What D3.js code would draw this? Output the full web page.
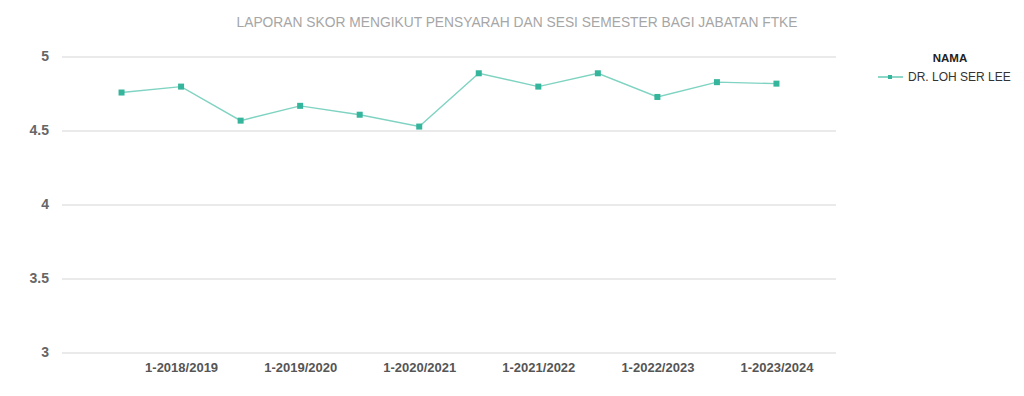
<!DOCTYPE html>
<html>
<head>
<meta charset="utf-8">
<script src="https://cdn.jsdelivr.net/npm/d3@7"></script>
<style>
  body { margin: 0; background: #fff; }
  text { font-family: "Liberation Sans", Arial, sans-serif; }
</style>
</head>
<body>
<svg id="chart" width="1024" height="396"></svg>
<script>
// semesters on the x axis (only every second one gets a label)
var semesters = ['2-2017/2018', '1-2018/2019', '2-2018/2019', '1-2019/2020', '2-2019/2020', '1-2020/2021',
  '2-2020/2021', '1-2021/2022', '2-2021/2022', '1-2022/2023', '2-2022/2023', '1-2023/2024'];
var scores = [4.76, 4.80, 4.57, 4.67, 4.61, 4.53, 4.89, 4.80, 4.89, 4.73, 4.83, 4.82];
var yTicks = [3, 3.5, 4, 4.5, 5];
var seriesName = 'DR. LOH SER LEE';
var legendTitle = 'NAMA';
var chartTitle = 'LAPORAN SKOR MENGIKUT PENSYARAH DAN SESI SEMESTER BAGI JABATAN FTKE';

(function(){
  var svg = d3.select('#chart');
  var plotL = 62, plotR = 836, plotT = 57, plotB = 353;
  var lineColor = '#7fd3c2', markColor = '#35b59c';

  var x = d3.scalePoint().domain(semesters).range([plotL, plotR]).padding(1);
  var y = d3.scaleLinear().domain([3, 5]).range([plotB, plotT]);

  svg.append('text')
    .attr('x', 517).attr('y', 27)
    .attr('text-anchor', 'middle')
    .style('font-size', '13.8px')
    .style('fill', '#a6a6a6')
    .text(chartTitle);

  // grid
  svg.append('g').selectAll('line')
    .data(yTicks)
    .enter().append('line')
    .attr('x1', plotL).attr('x2', plotR)
    .attr('y1', d => y(d)).attr('y2', d => y(d))
    .style('stroke', '#e3e3e3')
    .style('stroke-width', 1.3);

  svg.append('g').selectAll('text')
    .data(yTicks)
    .enter().append('text')
    .attr('x', 49).attr('y', d => y(d))
    .attr('text-anchor', 'end')
    .attr('dominant-baseline', 'middle')
    .style('font-size', '14px')
    .style('font-weight', 'bold')
    .style('fill', '#666')
    .text(d => d);

  var xAxis = d3.axisBottom(x)
    .tickValues(semesters.filter((d, i) => i % 2 == 1))
    .tickSize(0).tickPadding(10);
  var gx = svg.append('g').attr('transform', 'translate(0,' + plotB + ')').call(xAxis);
  gx.select('.domain').remove();
  gx.selectAll('text')
    .style('font-family', '"Liberation Sans", Arial, sans-serif')
    .style('font-size', '13px')
    .style('font-weight', 'bold')
    .style('fill', '#555');

  var line = d3.line()
    .x((d, i) => x(semesters[i]))
    .y(d => y(d));

  svg.append('path')
    .datum(scores)
    .attr('d', line)
    .style('fill', 'none')
    .style('stroke', lineColor)
    .style('stroke-width', 1.4);

  svg.append('g').selectAll('rect')
    .data(scores)
    .enter().append('rect')
    .attr('x', (d, i) => x(semesters[i]) - 3)
    .attr('y', d => y(d) - 3)
    .attr('width', 6).attr('height', 6)
    .style('fill', markColor);

  // legend
  var legend = svg.append('g');
  legend.append('text')
    .attr('x', 950).attr('y', 62)
    .attr('text-anchor', 'middle')
    .style('font-size', '11.5px')
    .style('font-weight', 'bold')
    .style('fill', '#222')
    .text(legendTitle);
  legend.append('line')
    .attr('x1', 878).attr('x2', 903)
    .attr('y1', 77).attr('y2', 77)
    .style('stroke', lineColor)
    .style('stroke-width', 1.8);
  legend.append('rect')
    .attr('x', 888).attr('y', 75).attr('width', 4).attr('height', 4)
    .style('fill', markColor);
  legend.append('text')
    .attr('x', 908).attr('y', 81)
    .style('font-size', '12px')
    .style('fill', '#333')
    .text(seriesName);
})();
</script>
</body>
</html>
